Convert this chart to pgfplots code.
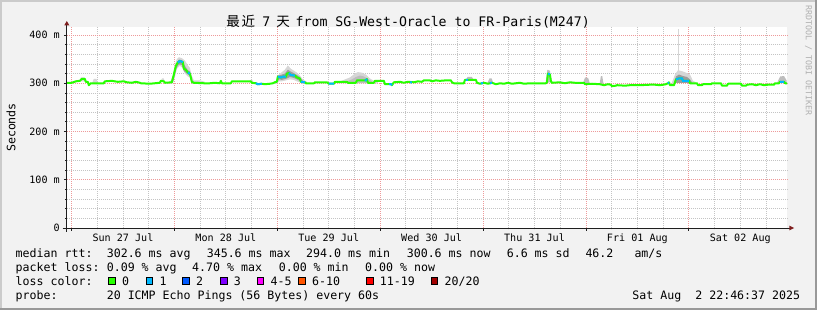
\documentclass[border=0pt]{standalone}
\usepackage{fontspec}
\setmainfont{DejaVu Sans Mono}
\newfontfamily\cjk{Noto Sans CJK SC}
\usepackage{pgfplots}
\pgfplotsset{compat=1.18}
\newcommand\legfont{\fontsize{11.6pt}{13pt}\selectfont}
\newcommand\axfont{\fontsize{10.1pt}{12pt}\selectfont}
\newcommand\titfont{\fontsize{13.2pt}{15pt}\selectfont}
\newcommand\cjkfont{\cjk\fontsize{13.5pt}{15pt}\selectfont}
\newcommand\wmfont{\fontsize{8.3pt}{9pt}\selectfont}
\definecolor{bg}{HTML}{F2F2F2}
\definecolor{shadea}{HTML}{CBCBCB}
\definecolor{shadeb}{HTML}{999999}
\definecolor{mgrid}{HTML}{EE9A9A}
\definecolor{mingrid}{HTML}{C4C4C4}
\definecolor{arrowc}{HTML}{7F1F1F}
\definecolor{axisc}{HTML}{1F1F1F}
\definecolor{l0}{HTML}{26FF00}
\definecolor{l1}{HTML}{00B8FF}
\definecolor{l2}{HTML}{0059FF}
\definecolor{l3}{HTML}{7E00FF}
\definecolor{l45}{HTML}{FF00FF}
\definecolor{l610}{HTML}{FF5500}
\definecolor{l1119}{HTML}{FF0000}
\definecolor{l20}{HTML}{A10000}
\definecolor{smokeout}{HTML}{D6D6D6}
\definecolor{smokemid}{HTML}{BDBDBD}
\definecolor{smokein}{HTML}{9C9C9C}
\definecolor{wm}{HTML}{B0B0B0}
\begin{document}
\begin{tikzpicture}
\fill[bg] (0,0) rectangle (817pt,310pt);
\fill[shadea] (0,308pt) rectangle (817pt,310pt);
\fill[shadea] (0,0) rectangle (2pt,310pt);
\fill[shadeb] (0,0) rectangle (817pt,2pt);
\fill[shadeb] (815pt,0) rectangle (817pt,310pt);
\begin{axis}[
  at={(66.8pt,82pt)}, anchor=south west, scale only axis,
  width=720.2pt, height=200.7pt,
  xmin=-1.10, xmax=166.90, ymin=0, ymax=416,
  axis lines*=left, axis line style={draw=none},
  axis background/.style={fill=white},
  clip mode=individual,
  xtick={0,24,48,72,96,120,144}, xticklabels={{},{},{},{},{},{},{}},
  minor xtick={6,12,18,30,36,42,54,60,66,78,84,90,102,108,114,126,132,138,150,156,162},
  extra x ticks={12,36,60,84,108,132,156},
  extra x tick labels={Sun 27 Jul,Mon 28 Jul,Tue 29 Jul,Wed 30 Jul,Thu 31 Jul,Fri 01 Aug,Sat 02 Aug},
  extra x tick style={grid=none, major tick length=0pt, tick style={draw=none}},
  ytick={0,100,200,300,400},
  yticklabels={0\hspace{12.2pt},100 m,200 m,300 m,400 m},
  minor ytick={20,40,60,80,120,140,160,180,220,240,260,280,320,340,360,380},
  grid=both,
  major grid style={mgrid, line width=0.8pt, dash pattern=on 1pt off 1pt},
  minor grid style={mingrid, line width=0.8pt, dash pattern=on 1pt off 1pt},
  tick align=outside, major tick length=3pt, minor tick length=1.5pt,
  tick style={axisc, line width=0.8pt},
  xticklabel style={font=\axfont, inner sep=0pt, anchor=north, yshift=-5.8pt},
  yticklabel style={font=\axfont, inner sep=0pt, anchor=east, xshift=-3.8pt},
  /pgf/number format/assume math mode=true,
]
% smoke: outer bands
\addplot[fill=smokeout, draw=none] coordinates {(22.94,302) (23.64,315) (24.10,338) (24.57,350) (25.04,354) (25.74,352) (26.44,347) (27.14,337) (27.60,332) (28.07,315) (28.54,306) (29.94,306) (31.10,303) (31.10,299) (28.54,299) (28.07,300) (27.60,312) (27.14,314) (26.44,320) (25.97,332) (25.27,336) (24.57,330) (24.10,312) (23.64,300) (22.94,299)} -- cycle;
\addplot[fill=smokeout, draw=none] coordinates {(47.20,301) (47.90,305) (48.37,318) (49.07,323) (49.77,328) (50.47,337) (51.17,330) (51.87,326) (52.57,322) (53.27,316) (53.97,308) (54.90,303) (54.90,299) (53.97,299) (53.27,302) (52.57,304) (51.87,307) (50.94,308) (50.00,306) (49.07,304) (48.37,304) (47.90,299) (47.20,299)} -- cycle;
\addplot[fill=smokeout, draw=none] coordinates {(62.14,302) (63.54,307) (64.94,312) (66.10,320) (66.80,323) (67.74,322) (68.67,318) (69.60,310) (70.54,305) (71.47,302) (71.47,300) (62.14,300)} -- cycle;
\addplot[fill=smokeout, draw=none] coordinates {(140.07,302) (140.77,318) (141.47,327) (142.40,325) (143.34,322) (144.27,318) (144.97,305) (145.67,302) (145.67,299) (143.34,301) (141.00,303) (140.07,298)} -- cycle;
\addplot[smokeout, line width=1pt] coordinates {(141.70,305) (141.70,412)};
% smoke: small patches
\addplot[fill=smokemid, draw=none] coordinates {(91.9,306) (92.4,313) (93.4,313) (93.9,306)} -- cycle;
\addplot[fill=smokemid, draw=none] coordinates {(97.0,300) (97.5,310) (98.0,310) (98.4,300)} -- cycle;
\addplot[fill=smokemid, draw=none] coordinates {(110.6,301) (111.0,328) (111.6,326) (112.0,302)} -- cycle;
\addplot[fill=smokemid, draw=none] coordinates {(119.3,300) (119.8,312) (120.5,311) (120.9,300)} -- cycle;
\addplot[fill=smokemid, draw=none] coordinates {(123.2,299) (123.5,315) (123.8,315) (124.1,299)} -- cycle;
\addplot[fill=smokemid, draw=none] coordinates {(164.6,301) (165.3,314) (166.2,315) (166.8,306) (166.8,300)} -- cycle;
\addplot[fill=smokeout, draw=none] coordinates {(1.7,304) (2.2,312) (3.0,312) (3.4,304)} -- cycle;
\addplot[fill=smokeout, draw=none] coordinates {(4.8,300) (5.2,309) (5.8,309) (6.2,300)} -- cycle;
\addplot[fill=smokeout, draw=none] coordinates {(20.9,304) (21.1,310) (21.5,310) (21.7,304)} -- cycle;
\addplot[fill=smokeout, draw=none] coordinates {(41.5,303) (41.8,307) (42.2,307) (42.4,302)} -- cycle;
% smoke: inner bands
\addplot[fill=smokein, draw=none] coordinates {(23.64,308) (24.10,330) (24.57,343) (25.04,349) (25.74,348) (26.20,340) (26.67,333) (27.14,327) (27.60,325) (27.84,316) (28.07,305) (28.54,303) (28.54,300) (28.07,300) (27.60,316) (27.14,318) (26.67,322) (26.20,325) (25.74,338) (25.04,339) (24.57,333) (24.10,318) (23.64,302)} -- cycle;
\addplot[fill=smokein, draw=none] coordinates {(47.90,303) (48.37,316) (49.07,318) (49.77,320) (50.47,328) (51.17,324) (51.87,321) (52.57,317) (53.27,313) (53.97,305) (53.97,300) (53.27,305) (52.57,308) (51.87,311) (50.94,313) (50.00,309) (49.07,307) (48.37,308) (47.90,301)} -- cycle;
\addplot[fill=smokemid, draw=none] coordinates {(64.00,303) (65.40,308) (66.34,313) (67.27,316) (68.20,314) (69.14,309) (70.07,304) (70.07,301) (64.00,301)} -- cycle;
\addplot[fill=smokein, draw=none] coordinates {(140.54,300) (141.00,314) (141.70,318) (142.64,315) (143.57,313) (144.27,308) (144.74,302) (144.74,301) (140.54,301)} -- cycle;
% median rtt (loss 0)
\addplot[l0, line width=2pt, line join=round] coordinates {
(-1.10,301) (0.07,301) (1.00,304) (1.94,305) (2.40,309) (3.10,309) (3.34,303) (3.80,303) (4.04,296) (4.50,300) (7.54,300) (7.77,304) (9.40,305) (10.80,303) (12.20,304) (12.90,302) (14.07,301) (15.00,303) (15.94,301) (16.17,300) (18.27,299) (19.44,300) (20.60,301) (20.84,305) (21.54,304) (21.77,301) (23.40,302)
(23.87,318) (24.34,336) (24.80,343) (25.27,346) (25.97,344) (26.20,330) (26.67,328) (27.14,322) (27.60,320) (27.84,312) (28.07,303) (28.54,301)
(30.87,300) (32.27,300) (33.44,301) (34.60,300) (34.84,305) (35.07,300) (37.17,300) (37.40,304) (41.84,304) (42.07,301) (43.00,300) (43.47,298) (44.40,299) (45.10,298) (46.27,299) (46.97,300) (47.67,303)
(47.90,303) (48.14,314) (48.84,312) (49.54,314) (50.00,313) (50.24,320) (50.70,321) (51.17,317) (52.10,316) (52.57,312) (53.27,310) (53.50,303) (54.44,302) (54.67,300)
(56.54,300) (56.77,302) (59.57,302) (60.04,299) (61.20,299) (61.44,303) (64.24,303) (64.47,301) (66.34,301) (66.57,306) (68.67,306) (68.90,309) (69.14,301) (70.54,301) (70.77,305) (72.87,305) (73.10,298) (74.50,298) (74.74,296) (75.20,302) (76.60,303) (77.54,301) (78.47,303) (79.87,302) (80.80,304) (81.74,303)
(82.20,306) (83.60,306) (84.07,304) (85.00,306) (85.94,305) (87.34,306) (88.50,306) (88.74,302) (89.20,300) (91.54,300) (91.77,307) (94.34,307) (94.57,301) (95.27,299) (96.20,301) (97.14,299) (98.07,301) (99.00,298) (99.94,300) (100.87,299) (101.80,301) (102.74,299) (103.67,300) (104.60,301) (105.54,299) (106.94,300) (110.67,300)
(110.90,302) (111.14,320) (111.60,318) (111.84,304) (112.07,301) (113.94,302) (115.10,300) (116.27,302) (117.44,301) (119.54,301) (119.77,298) (121.40,299) (123.27,298) (124.20,296) (125.14,298) (125.84,297) (126.07,294) (127.00,295) (127.24,296) (129.10,295) (130.27,296) (132.60,296) (134.94,297) (136.10,297) (137.27,296) (138.67,298)
(139.14,300) (139.37,302) (139.60,296) (140.54,296) (141.00,308) (141.70,310) (142.40,310) (142.64,305) (144.04,305) (144.27,300) (145.90,300) (146.14,296) (147.07,296) (147.30,298) (149.17,298) (149.40,300) (151.50,300) (151.74,295) (152.90,295) (153.14,299) (156.17,299) (156.40,295) (157.34,295) (157.57,297) (158.74,298) (159.67,296) (160.60,298) (161.54,296) (162.47,297) (163.87,297) (164.10,300) (165.04,300) (165.27,303) (166.20,303) (166.44,300) (166.90,300)
};
% median rtt (loss 1)
\addplot[l1, line width=2pt, unbounded coords=jump] coordinates {
(24.80,343) (25.27,346) (25.97,344) (26.00,nan)
(27.14,322) (27.60,320) (27.70,nan)
(43.00,300) (43.47,298) (44.40,299) (44.5,nan)
(48.14,314) (48.84,312) (49.54,314) (50.00,313) (50.1,nan)
(50.70,321) (51.17,317) (52.10,316) (52.2,nan)
(53.50,303) (54.44,302) (54.5,nan)
(60.04,299) (61.20,299) (61.3,nan)
(68.40,306) (68.67,306) (68.90,309) (69.0,nan)
(74.10,298) (74.50,298) (74.74,296) (74.8,nan)
(79.00,302) (79.40,302) (79.5,nan)
(92.00,307) (92.50,307) (92.6,nan)
(95.50,299.5) (96.00,300.6) (96.1,nan)
(97.60,300) (98.07,301) (98.1,nan)
(111.14,320) (111.60,318) (111.7,nan)
(139.14,300) (139.37,302) (139.4,nan)
(141.00,308) (141.70,310) (142.40,310) (142.64,305) (144.04,305) (144.1,nan)
(165.27,303) (166.20,303)
};
\end{axis}
% axes with arrows
\draw[axisc, line width=0.9pt] (62.7pt,82pt) -- (789.5pt,82pt);
\draw[axisc, line width=0.9pt] (66.8pt,78.3pt) -- (66.8pt,285pt);
\fill[arrowc] (789.3pt,84.4pt) -- (794pt,82pt) -- (789.3pt,79.6pt) -- cycle;
\fill[arrowc] (64.3pt,284.7pt) -- (66.8pt,289pt) -- (69.3pt,284.7pt) -- cycle;
% title
\node[anchor=base west, inner sep=0pt] at (226.2pt,283.5pt) {\cjkfont 最};
\node[anchor=base west, inner sep=0pt] at (241.5pt,283.5pt) {\cjkfont 近};
\node[anchor=base west, inner sep=0pt, font=\titfont] at (262.1pt,283.5pt) {7};
\node[anchor=base west, inner sep=0pt] at (276.2pt,283.5pt) {\cjkfont 天};
\node[anchor=base west, inner sep=0pt, font=\titfont] at (295.5pt,283.5pt) {from SG-West-Oracle to FR-Paris(M247)};
% y label
\node[rotate=90, inner sep=0pt, font=\legfont] at (11pt,182.5pt) {Seconds};
% watermark
\node[rotate=-90, anchor=west, inner sep=0pt, font=\wmfont, text=wm] at (808.5pt,305pt) {RRDTOOL / TOBI OETIKER};
% legend
\begin{scope}[every node/.style={anchor=base west, inner sep=0pt, font=\legfont}]
\node at (15.5pt,52.3pt) {median rtt:};
\node at (106.6pt,52.3pt) {302.6 ms avg};
\node at (206.6pt,52.3pt) {345.6 ms max};
\node at (306.0pt,52.3pt) {294.0 ms min};
\node at (406.6pt,52.3pt) {300.6 ms now};
\node at (506.6pt,52.3pt) {6.6 ms sd};
\node at (585.3pt,52.3pt) {46.2};
\node at (634.3pt,52.3pt) {am/s};
\node at (15.5pt,38.3pt) {packet loss:};
\node at (106.6pt,38.3pt) {0.09 \% avg};
\node at (192.0pt,38.3pt) {4.70 \% max};
\node at (278.6pt,38.3pt) {0.00 \% min};
\node at (365.0pt,38.3pt) {0.00 \% now};
\node at (15.5pt,24.3pt) {loss color:};
\node at (122.0pt,24.3pt) {0};
\node at (159.4pt,24.3pt) {1};
\node at (196.0pt,24.3pt) {2};
\node at (233.7pt,24.3pt) {3};
\node at (270.4pt,24.3pt) {4-5};
\node at (312.0pt,24.3pt) {6-10};
\node at (379.7pt,24.3pt) {11-19};
\node at (444.4pt,24.3pt) {20/20};
\node at (15.5pt,10pt) {probe:};
\node at (106.6pt,10pt) {20 ICMP Echo Pings (56 Bytes) every 60s};
\node[anchor=base east] at (800.3pt,10pt) {Sat Aug~~2 22:46:37 2025};
\end{scope}
\begin{scope}[line width=0.8pt]
\filldraw[fill=l0, draw=black] (108.7pt,25.1pt) rectangle (115.3pt,32.3pt);
\filldraw[fill=l1, draw=black] (146.1pt,25.1pt) rectangle (152.7pt,32.3pt);
\filldraw[fill=l2, draw=black] (182.7pt,25.1pt) rectangle (189.3pt,32.3pt);
\filldraw[fill=l3, draw=black] (220.4pt,25.1pt) rectangle (227.0pt,32.3pt);
\filldraw[fill=l45, draw=black] (257.1pt,25.1pt) rectangle (263.7pt,32.3pt);
\filldraw[fill=l610, draw=black] (298.7pt,25.1pt) rectangle (305.3pt,32.3pt);
\filldraw[fill=l1119, draw=black] (366.4pt,25.1pt) rectangle (373.0pt,32.3pt);
\filldraw[fill=l20, draw=black] (431.1pt,25.1pt) rectangle (437.7pt,32.3pt);
\end{scope}
\pgfresetboundingbox
\useasboundingbox (0,0) rectangle (817pt,310pt);
\end{tikzpicture}
\end{document}
